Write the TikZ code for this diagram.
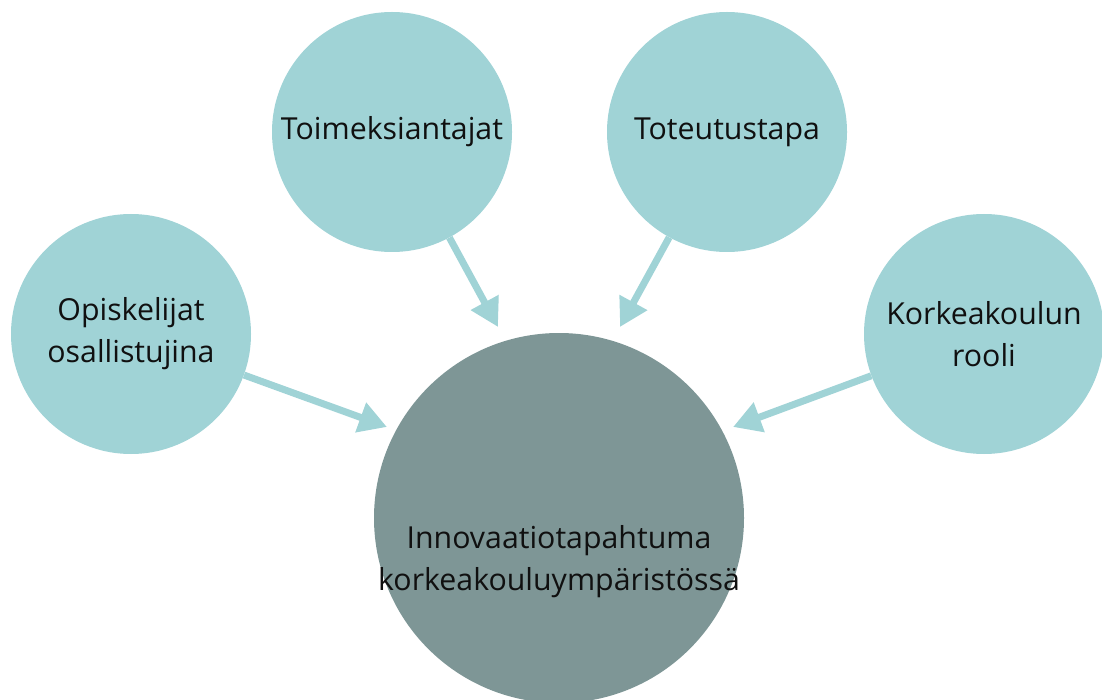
\documentclass[tikz,border=0pt]{standalone}
\usepackage{fontspec}
\setmainfont{Open Sans}
\usetikzlibrary{arrows.meta}
\definecolor{vaalea}{HTML}{A0D3D6}
\definecolor{tumma}{HTML}{7E9696}
\definecolor{teksti}{HTML}{101010}
\begin{document}
\begin{tikzpicture}[x=1pt, y=-1pt,
	pallo/.style={circle, fill=vaalea, minimum size=240pt, inner sep=0pt, align=center, text=teksti, font=\fontsize{30.3}{42}\selectfont},
	nuoli/.style={draw=vaalea, line width=7pt, -{Triangle[length=28pt, width=30pt]}}]
			\useasboundingbox (0,0) rectangle (1102,700);
			\clip (0,0) rectangle (1102,700);
			\node[circle, fill=tumma, minimum size=370pt, inner sep=0pt] (inno) at (559,518) {};
			\node[text=teksti, align=center, font=\fontsize{30.3}{42}\selectfont] (innoteksti) at (559,562) {Innovaatiotapahtuma\\korkeakouluympäristössä};
			\node[pallo] (toim) at (392,132) {Toimeksiantajat};
			\node[pallo] (tote) at (727,132) {Toteutustapa};
			\node[pallo] (opis) at (131,334) {Opiskelijat\\osallistujina};
			\node[pallo] (kork) at (984,334) {Korkeakoulun\\rooli};
			\coordinate (k1) at (498,327);
			\coordinate (k2) at (620,327);
			\coordinate (k3) at (387,427);
			\coordinate (k4) at (733,427);
			\draw[nuoli] (toim) to (k1);
			\draw[nuoli] (tote) to (k2);
			\draw[nuoli] (opis) to (k3);
			\draw[nuoli] (kork) to (k4);
			\end{tikzpicture}
\end{document}
